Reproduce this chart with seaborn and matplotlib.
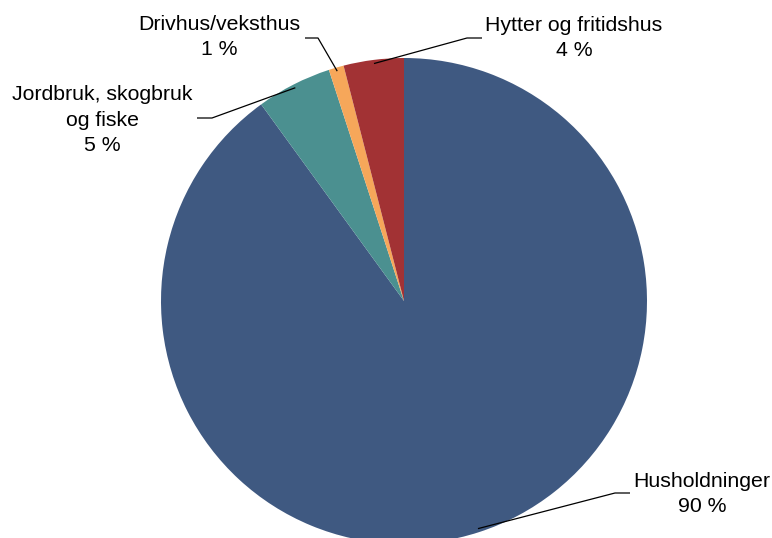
import numpy as np
import matplotlib
matplotlib.use("Agg")
import matplotlib.pyplot as plt
import seaborn as sns

# Share of energy use by sector (percent)
categories = ["Husholdninger", "Jordbruk, skogbruk\nog fiske", "Drivhus/veksthus", "Hytter og fritidshus"]
values = [90, 5, 1, 4]
colors = ["#3F5981", "#4B9090", "#F6A75A", "#A23234"]

sns.set_theme(style="white")
plt.rcParams["font.family"] = ["Liberation Sans", "DejaVu Sans"]

W, H = 772, 538
fig = plt.figure(figsize=(W / 100, H / 100), dpi=100)
ax = fig.add_axes([0, 0, 1, 1])

# pie geometry in pixels (centre and radius)
CX, CY, R = 404, 301, 243


def px(x, y):
    """Convert pixel coordinates (from top-left) to pie data units."""
    return (x - CX) / R, (CY - y) / R


wedges, _ = ax.pie(values, colors=colors, startangle=90, counterclock=False,
                   radius=1.0, wedgeprops=dict(linewidth=0))

ax.set_xlim((0 - CX) / R, (W - CX) / R)
ax.set_ylim((CY - H) / R, CY / R)
ax.set_aspect("auto")
ax.axis("off")

# label block centre, elbow start and elbow end (pixels)
label_layout = {
    0: dict(text=(702, 494), elbow=((630, 493), (615, 493))),
    1: dict(text=(102, 120), elbow=((197, 118), (212, 118))),
    2: dict(text=(219, 37), elbow=((305, 38), (318, 38))),
    3: dict(text=(574, 38), elbow=((482, 38), (467, 38))),
}

for i, (w, name, val) in enumerate(zip(wedges, categories, values)):
    lay = label_layout[i]
    mid = np.deg2rad((w.theta1 + w.theta2) / 2)
    ex, ey = 0.985 * np.cos(mid), 0.985 * np.sin(mid)
    (x0, y0), (x1, y1) = [px(*p) for p in lay["elbow"]]
    ax.plot([x0, x1, ex], [y0, y1, ey], color="black", lw=0.9,
            solid_capstyle="butt", zorder=3)
    tx, ty = px(*lay["text"])
    ax.text(tx, ty, f"{name}\n{val} %", ha="center", va="center",
            multialignment="center", fontsize=15.3, linespacing=1.44,
            color="black")

fig.savefig("out.png", dpi=100)
